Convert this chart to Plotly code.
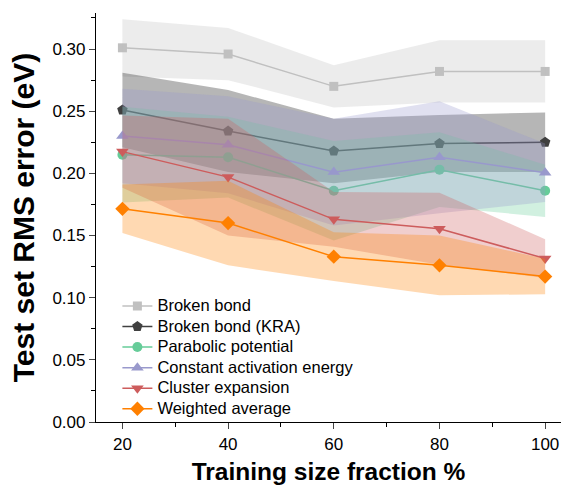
import plotly.graph_objects as go

# ---- data ----
train_frac = [20, 40, 60, 80, 100]

names = ["Broken bond", "Broken bond (KRA)", "Parabolic potential",
         "Constant activation energy", "Cluster expansion", "Weighted average"]

bb_mean = [0.301, 0.296, 0.270, 0.282, 0.282]
bb_sd = [0.023, 0.021, 0.017, 0.025, 0.025]

kra_mean = [0.251, 0.234, 0.218, 0.224, 0.225]
kra_sd = [0.030, 0.033, 0.026, 0.023, 0.024]

para_mean = [0.215, 0.213, 0.186, 0.203, 0.186]
para_sd = [0.0385, 0.0325, 0.040, 0.030, 0.021]

const_mean = [0.230, 0.223, 0.201, 0.213, 0.2005]
const_sd = [0.038, 0.039, 0.043, 0.045, 0.0235]

clus_mean = [0.2175, 0.197, 0.163, 0.1555, 0.1315]
clus_sd = [0.029, 0.047, 0.022, 0.029, 0.0156]

wavg_mean = [0.1715, 0.160, 0.133, 0.126, 0.117]
wavg_sd = [0.0195, 0.034, 0.0196, 0.024, 0.0143]

x_ticks = [20, 40, 60, 80, 100]

# ---- styles ----
colors = ["#c0c0c0", "#404040", "#66cc99", "#9999cc", "#cd5c5c", "#ff8000"]
fills = ["rgba(192,192,192,0.30)", "rgba(64,64,64,0.38)", "rgba(102,204,153,0.30)",
         "rgba(153,153,204,0.30)", "rgba(205,92,92,0.30)", "rgba(255,128,0,0.30)"]
symbols = ["square", "pentagon", "circle", "triangle-up", "triangle-down", "diamond"]
sizes = [9, 11, 10, 11, 11, 11]

means = [bb_mean, kra_mean, para_mean, const_mean, clus_mean, wavg_mean]
sds = [bb_sd, kra_sd, para_sd, const_sd, clus_sd, wavg_sd]

fig = go.Figure()
for name, m, s, c, f, sym, sz in zip(names, means, sds, colors, fills, symbols, sizes):
    upper = [a + b for a, b in zip(m, s)]
    lower = [a - b for a, b in zip(m, s)]
    fig.add_trace(go.Scatter(
        x=train_frac, y=m, mode="lines+markers",
        name='<span style="font-size:16.5px">' + name + '</span>',
        line=dict(color=c, width=1.5),
        marker=dict(symbol=sym, size=sz, color=c, line=dict(width=0)),
    ))
    fig.add_trace(go.Scatter(
        x=train_frac + train_frac[::-1], y=upper + lower[::-1],
        mode="lines", fill="toself", fillcolor=f, line=dict(width=0),
        hoverinfo="skip", showlegend=False,
    ))

font_family = "Liberation Sans, Arial, sans-serif"
xr = [15, 103]
yr = [0, 0.329]

fig.update_layout(
    width=561, height=487,
    margin=dict(l=96, r=0, t=13, b=65),
    paper_bgcolor="white", plot_bgcolor="white",
    font=dict(family=font_family, color="black"),
    showlegend=True,
    legend=dict(x=0.046, y=0.321, xanchor="left", yanchor="top",
                bgcolor="rgba(0,0,0,0)", font=dict(size=13.5, family=font_family),
                itemwidth=30, tracegroupgap=0),
    xaxis=dict(
        range=xr, tickvals=x_ticks, ticks="outside", ticklen=6, tickwidth=1,
        showline=True, linecolor="black", linewidth=1.2, showgrid=False, zeroline=False,
        tickfont=dict(size=17),
        minor=dict(ticks="outside", ticklen=3.5, dtick=10, tick0=0, tickcolor="black", showgrid=False),
        title=dict(text="<b>Training size fraction %</b>", font=dict(size=24.5), standoff=10),
    ),
    xaxis2=dict(
        range=xr, overlaying="x", side="top", anchor="y", tickvals=x_ticks,
        ticks="inside", ticklen=6, showticklabels=False,
        showline=True, linecolor="black", linewidth=1.2, showgrid=False, zeroline=False,
        minor=dict(ticks="inside", ticklen=3.5, dtick=10, tick0=0, tickcolor="black", showgrid=False),
    ),
    yaxis=dict(
        range=yr, dtick=0.05, tick0=0, tickformat=".2f", ticks="outside", ticklen=6,
        showline=True, linecolor="black", linewidth=1.2, showgrid=False, zeroline=False,
        tickfont=dict(size=17),
        minor=dict(ticks="outside", ticklen=3.5, dtick=0.025, tick0=0, tickcolor="black", showgrid=False),
        title=dict(text="<b>Test set RMS error (eV)</b>", font=dict(size=30), standoff=8),
    ),
)

fig.write_html("out.html")
